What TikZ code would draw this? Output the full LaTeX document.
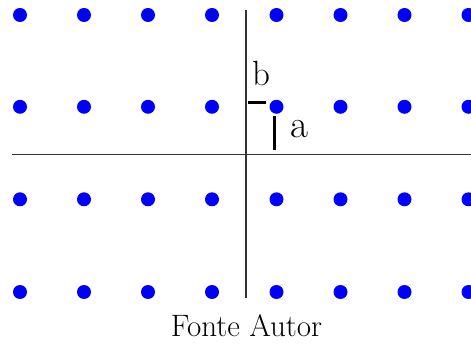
\documentclass[tikz,border=0pt]{standalone}
\begin{document}
\begin{tikzpicture}[x=1pt,y=-1pt,
  dot/.style={circle,fill=blue,inner sep=0pt,minimum size=14pt},
  axis/.style={line width=1.6pt,draw=black!80},
  tick/.style={line width=3pt,draw=black},
  lbl/.style={inner sep=0pt,anchor=base}]
\useasboundingbox (0,0) rectangle (471,344);
\foreach \i/\x in {1/20,2/84,3/148,4/212,5/276.5,6/340.5,7/404.5,8/468.5}{
  \foreach \j/\y in {1/15,2/106.8,3/199.3,4/292}{
    \node[dot] (d-\i-\j) at (\x,\y) {};
  }
}
\coordinate (vt) at (245.7,10.5);
\coordinate (vb) at (245.7,298);
\coordinate (hl) at (12,154.5);
\coordinate (hr) at (471,154.5);
\draw[axis] (vt) -- (vb);
\draw[axis] (hl) -- (hr);
\coordinate (b1) at (247.5,102.7);
\coordinate (b2) at (266,102.7);
\coordinate (a1) at (274,116.5);
\coordinate (a2) at (274,150.5);
\draw[tick] (b1) -- (b2);
\draw[tick] (a1) -- (a2);
\node[lbl,font=\fontsize{35}{40}\selectfont] (lb) at (261.3,86) {b};
\node[lbl,font=\fontsize{39}{44}\selectfont] (la) at (299,137.3) {a};
\node[lbl,font=\fontsize{31}{36}\selectfont] (cap) at (246.5,337) {Fonte Autor};
\end{tikzpicture}
\end{document}
